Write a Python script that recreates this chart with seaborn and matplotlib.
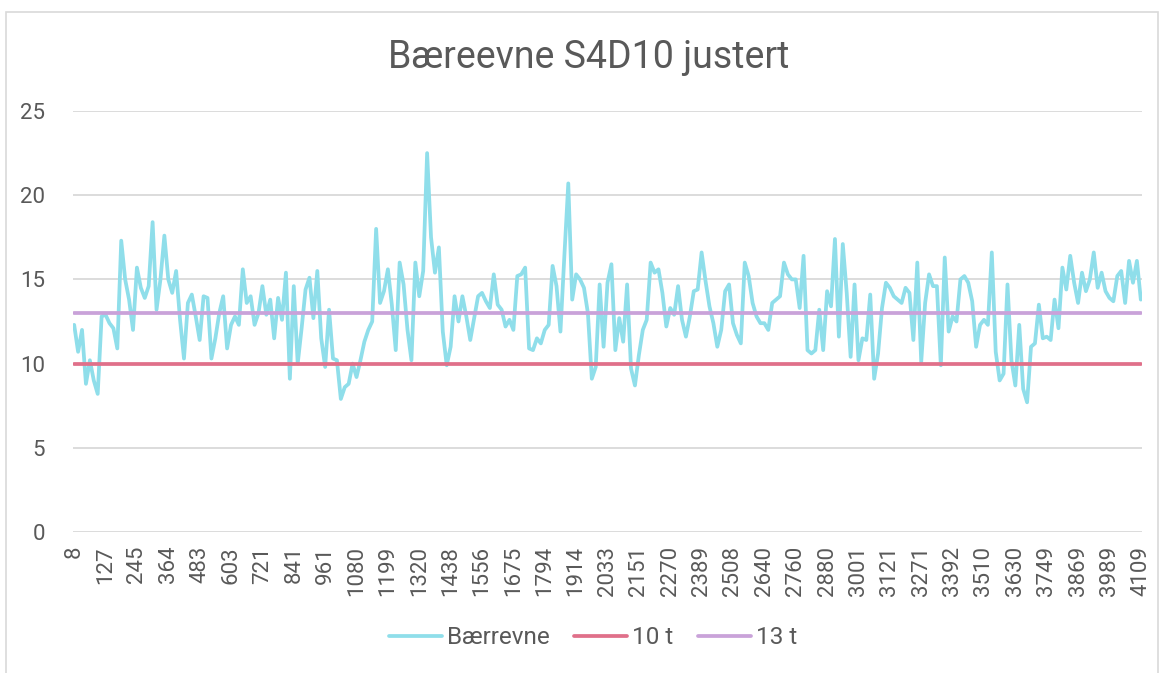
import numpy as np
import pandas as pd
import matplotlib.pyplot as plt
from matplotlib.patches import Rectangle
import seaborn as sns

# kategori-etiketter som vises på x-aksen (hvert 8. punkt)
tick_labels = ["8", "127", "245", "364", "483", "603", "721", "841", "961", "1080",
               "1199", "1320", "1438", "1556", "1675", "1794", "1914", "2033", "2151",
               "2270", "2389", "2508", "2640", "2760", "2880", "3001", "3121", "3271",
               "3392", "3510", "3630", "3749", "3869", "3989", "4109"]
points_per_label = 8

# bæreevne (t), lest av figuren
baereevne = [
    12.3, 10.7, 12.0, 8.8, 10.2, 9.0, 8.2, 12.8, 12.9, 12.4,
    12.1, 10.9, 17.3, 15.0, 13.8, 12.0, 15.7, 14.5, 13.9, 14.6,
    18.4, 13.2, 15.0, 17.6, 15.0, 14.2, 15.5, 12.6, 10.3, 13.6,
    14.1, 12.8, 11.4, 14.0, 13.9, 10.3, 11.5, 13.0, 14.0, 10.9,
    12.3, 12.8, 12.3, 15.6, 13.6, 14.0, 12.3, 13.0, 14.6, 12.9,
    13.8, 11.5, 13.9, 12.6, 15.4, 9.1, 14.6, 10.0, 12.1, 14.4,
    15.1, 12.7, 15.5, 11.5, 9.8, 13.2, 10.3, 10.2, 7.9, 8.6,
    8.8, 10.0, 9.2, 10.2, 11.3, 12.0, 12.5, 18.0, 13.6, 14.3,
    15.6, 13.5, 10.8, 16.0, 14.7, 12.0, 10.2, 16.0, 14.0, 15.5,
    22.5, 17.5, 15.4, 16.9, 11.9, 9.9, 11.0, 14.0, 12.5, 14.0,
    12.8, 11.4, 12.7, 14.0, 14.2, 13.7, 13.3, 15.3, 13.5, 13.2,
    12.2, 12.6, 12.0, 15.2, 15.3, 15.7, 10.9, 10.8, 11.5, 11.2,
    12.0, 12.3, 15.8, 14.6, 11.9, 16.4, 20.7, 13.8, 15.3, 15.0,
    14.5, 13.0, 9.1, 9.8, 14.7, 11.0, 14.8, 15.9, 10.8, 12.7,
    11.3, 14.7, 9.7, 8.7, 10.5, 12.0, 12.6, 16.0, 15.4, 15.6,
    14.2, 12.2, 13.3, 12.9, 14.6, 12.6, 11.6, 12.8, 14.3, 14.4,
    16.6, 14.9, 13.4, 12.4, 11.0, 12.0, 14.3, 14.7, 12.4, 11.7,
    11.2, 16.0, 15.2, 13.6, 12.8, 12.4, 12.4, 12.0, 13.6, 13.8,
    14.0, 16.0, 15.3, 15.0, 15.0, 13.3, 16.4, 10.8, 10.6, 10.8,
    13.2, 10.8, 14.3, 13.4, 17.4, 11.6, 17.1, 14.2, 10.4, 14.7,
    10.2, 11.5, 11.4, 14.1, 9.1, 10.6, 13.3, 14.8, 14.5, 14.0,
    13.8, 13.6, 14.5, 14.2, 11.4, 16.0, 10.1, 13.6, 15.3, 14.6,
    14.6, 9.9, 16.3, 11.9, 12.8, 12.5, 15.0, 15.2, 14.8, 13.7,
    11.0, 12.3, 12.6, 12.3, 16.6, 10.7, 9.0, 9.4, 14.7, 10.2,
    8.7, 12.3, 8.5, 7.7, 11.0, 11.2, 13.5, 11.5, 11.6, 11.4,
    13.8, 12.1, 15.7, 14.4, 16.4, 14.8, 13.6, 15.4, 14.3, 15.0,
    16.6, 14.5, 15.4, 14.3, 13.9, 13.7, 15.2, 15.5, 13.6, 16.1,
    14.8, 16.1, 13.8,
]
grense_10 = 10
grense_13 = 13

farger = {"Bærrevne": "#8fdeea", "10 t": "#e0708a", "13 t": "#c9a2d9"}
tekstfarge = "#595959"


def main():
    sns.set_theme(style="white")
    plt.rcParams['font.family'] = ['Roboto', 'DejaVu Sans']

    n = len(baereevne)
    df = pd.DataFrame({"punkt": np.arange(n), "Bærrevne": baereevne,
                       "10 t": grense_10, "13 t": grense_13})
    lang = df.melt(id_vars="punkt", var_name="serie", value_name="verdi")

    fig = plt.figure(figsize=(11.6, 6.73), dpi=100)
    ax = fig.add_axes([73 / 1160, 1 - 532 / 673, (1142 - 73) / 1160, (532 - 111) / 673])

    sns.lineplot(data=lang, x="punkt", y="verdi", hue="serie", palette=farger,
                 linewidth=2.7, ax=ax, legend=True)

    h, l = ax.get_legend_handles_labels()
    ax.get_legend().remove()
    for hh in h:
        hh.set_linewidth(2.7)

    ax.set_ylim(0, 25)
    ax.set_xlim(-0.3, n - 0.7)
    ax.set_yticks(range(0, 26, 5))
    ax.set_xticks(np.arange(0, n, points_per_label))
    ax.set_xticklabels(tick_labels, rotation=90)
    ax.tick_params(axis="both", length=0, labelsize=16, colors=tekstfarge)
    ax.tick_params(axis="y", pad=20)
    ax.tick_params(axis="x", pad=10)
    ax.set_xlabel("")
    ax.set_ylabel("")
    ax.yaxis.grid(True, color="#d9d9d9", linewidth=1.3)
    ax.set_axisbelow(True)
    for s in ax.spines.values():
        s.set_visible(False)

    fig.text(589 / 1160, 1 - 57 / 673, "Bæreevne S4D10 justert", ha="center", va="center",
             fontsize=27, color=tekstfarge)

    fig.legend(h, l, loc="center", bbox_to_anchor=(593 / 1160, 1 - 638 / 673), ncol=3,
               frameon=False, fontsize=17.5, labelcolor=tekstfarge, handlelength=2.2,
               handletextpad=0.2, columnspacing=1.0)

    fig.patches.append(Rectangle((6 / 1160, -0.01), 1152 / 1160, 1.01 - 12 / 673,
                                 transform=fig.transFigure, fill=False,
                                 edgecolor="#d9d9d9", linewidth=1.2))

    fig.savefig("out.png", dpi=100)


if __name__ == '__main__':
    main()
